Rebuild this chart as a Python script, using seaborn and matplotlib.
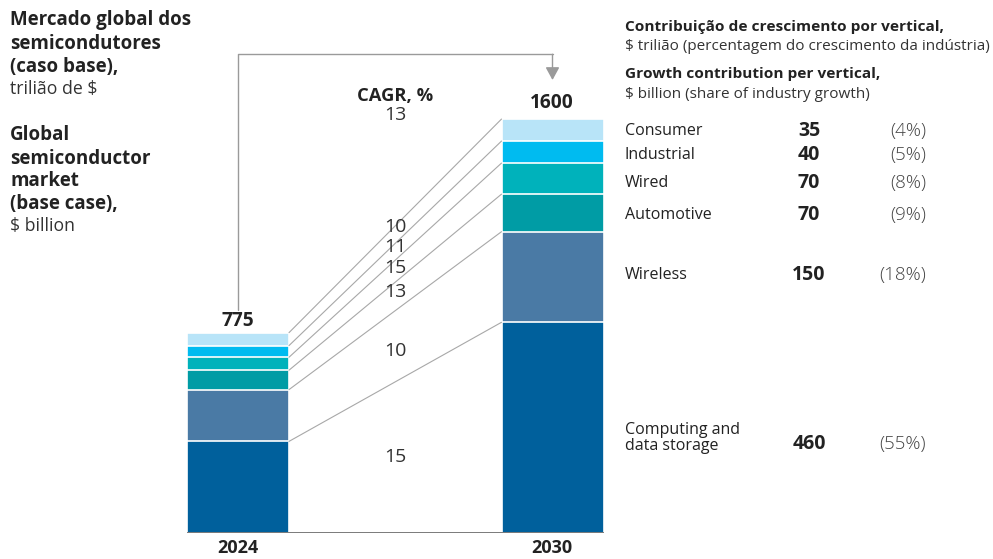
import matplotlib
matplotlib.use("Agg")
import matplotlib.pyplot as plt
from matplotlib import font_manager as fm
import seaborn as sns
import pandas as pd
import numpy as np

# ---- data ($ billion) ----
years = ["2024", "2030"]
verticals = ["Computing and\ndata storage", "Wireless", "Automotive", "Wired", "Industrial", "Consumer"]
values_2024 = [355, 200, 75, 50, 45, 50]
values_2030 = [815, 350, 145, 120, 85, 85]
totals = [775, 1600]
cagr_total = "13"
cagr_by_vertical = ["15", "10", "13", "15", "11", "10"]
growth = ["460", "150", "70", "70", "40", "35"]
growth_share = ["(55%)", "(18%)", "(9%)", "(8%)", "(5%)", "(4%)"]
colors = ["#00609c", "#4a7aa5", "#009ca5", "#00b2bb", "#00bbf0", "#b8e4f8"]

sns.set_theme(style="white")
plt.rcParams["font.family"] = ["Open Sans", "DejaVu Sans"]


def face(weight, families):
    """Normal-width, upright face near the requested weight from the first family that has one."""
    for fam in families:
        cands = []
        for f in fm.fontManager.ttflist:
            if f.name != fam or f.style != "normal":
                continue
            low = f.fname.lower()
            if "cond" in low or "narrow" in low or "display" in low:
                continue
            if f.stretch not in ("normal", 400, 500):
                continue
            w = f.weight if isinstance(f.weight, int) else fm.weight_dict.get(f.weight, 400)
            if abs(w - weight) <= 100:
                cands.append((abs(w - weight), f.fname))
        if cands:
            return fm.FontProperties(fname=sorted(cands)[0][1])
    return fm.FontProperties(family=["DejaVu Sans"], weight=weight)


BOLD = face(700, ("Open Sans", "Noto Sans"))
REG = face(400, ("Open Sans", "Noto Sans"))
LIGHT = face(300, ("Open Sans", "Noto Sans"))

W, H = 993, 559
fig = plt.figure(figsize=(W / 100, H / 100), dpi=100)

# bar axes: x units of 314.5 px, y 0.2589 px per $B, baseline at 533.3 px from top
px_per_unit = 314.5
px_per_b = 0.2589
base_px = 533.3
left_px = 238 - 0.5 * px_per_unit
ax = fig.add_axes([left_px / W, (H - base_px) / H, 2 * px_per_unit / W, base_px / H])
ax.set_facecolor("none")
ymax = base_px / px_per_b
bar_w = 102 / px_per_unit

df = pd.DataFrame({
    "year": np.repeat(years, len(verticals)),
    "vertical": verticals * 2,
    "value": values_2024 + values_2030,
})
df["cum"] = df.groupby("year")["value"].cumsum()

# stacked bars: draw cumulative heights from the top segment down
for i in range(len(verticals) - 1, -1, -1):
    sub = df[df["vertical"] == verticals[i]]
    sns.barplot(data=sub, x="year", y="cum", order=years, color=colors[i],
                width=bar_w, edgecolor="white", linewidth=1.2, ax=ax,
                saturation=1, errorbar=None)

ax.set_xlim(-0.5, 1.5)
ax.set_ylim(0, ymax)
ax.axis("off")

# baseline
ax.plot([-bar_w / 2, 1 + bar_w / 2], [0, 0], color="#707070", lw=1.3, solid_capstyle="butt")

# connector lines between segment tops
cum24 = np.cumsum(values_2024)
cum30 = np.cumsum(values_2030)
for a, b in zip(cum24, cum30):
    ax.plot([bar_w / 2, 1 - bar_w / 2], [a, b], color="#a8a8a8", lw=0.8)

# bracket arrow from 2024 total to 2030 total
y_start = (base_px - 310) / px_per_b
y_top = (base_px - 54.3) / px_per_b
y_tip = (base_px - 80) / px_per_b
ax.plot([0, 0, 1, 1], [y_start, y_top, y_top, y_top], color="#9a9a9a", lw=1.0)
ax.annotate("", xy=(1, y_tip), xytext=(1, y_top),
            arrowprops=dict(arrowstyle="-|>,head_length=0.55,head_width=0.3",
                            color="#9a9a9a", lw=1.0, shrinkA=0, shrinkB=0,
                            mutation_scale=14))


def ftext(x, y, s, fp, size, **kw):
    kw.setdefault("va", "center")
    kw.setdefault("color", "#222222")
    p = fp.copy()
    p.set_size(size)
    fig.text(x / W, 1 - y / H, s, fontproperties=p, **kw)


# totals and year labels
ftext(238, 321, str(totals[0]), BOLD, 13.8, ha="center")
ftext(552, 103, str(totals[1]), BOLD, 13.8, ha="center")
ftext(238, 548, years[0], BOLD, 13, ha="center")
ftext(552, 548, years[1], BOLD, 13, ha="center")

# CAGR labels
ftext(395, 96, "CAGR, %", BOLD, 13.2, ha="center")
ftext(395, 115, cagr_total, REG, 14, ha="center", color="#333333")
cagr_y = [457, 351, 292, 268, 247, 227]
for s, y in zip(cagr_by_vertical, cagr_y):
    ftext(395, y, s, REG, 14, ha="center", color="#333333")

# left title block
left_lines = [
    ("Mercado global dos", True, 20), ("semicondutores", True, 44),
    ("(caso base),", True, 67), ("trilião de $", False, 89),
    ("Global", True, 135), ("semiconductor", True, 159), ("market", True, 181),
    ("(base case),", True, 204), ("$ billion", False, 226),
]
for s, bold, y in left_lines:
    ftext(10, y, s, BOLD if bold else REG, 13.5 if bold else 12.7,
          ha="left", color="#222222" if bold else "#333333")

# right-hand growth table
ftext(625, 27, "Contribuição de crescimento por vertical,", BOLD, 11.1, ha="left")
ftext(625, 46, "$ trilião (percentagem do crescimento da indústria)", REG, 11, ha="left", color="#333333")
ftext(625, 74, "Growth contribution per vertical,", BOLD, 11.1, ha="left")
ftext(625, 94, "$ billion (share of industry growth)", REG, 11, ha="left", color="#333333")

row_y = [438, 275, 215, 183, 155, 131]
val_y = [444, 275, 215, 183, 155, 131]
for name, g, sh, y, vy in zip(verticals, growth, growth_share, row_y, val_y):
    ftext(625, y, name, REG, 11.5, ha="left", color="#222222", linespacing=0.95)
    ftext(809, vy, g, BOLD, 14, ha="center")
    ftext(926, vy, sh, LIGHT, 13.5, ha="right", color="#444444")

fig.savefig("out.png", dpi=100, facecolor="white")
